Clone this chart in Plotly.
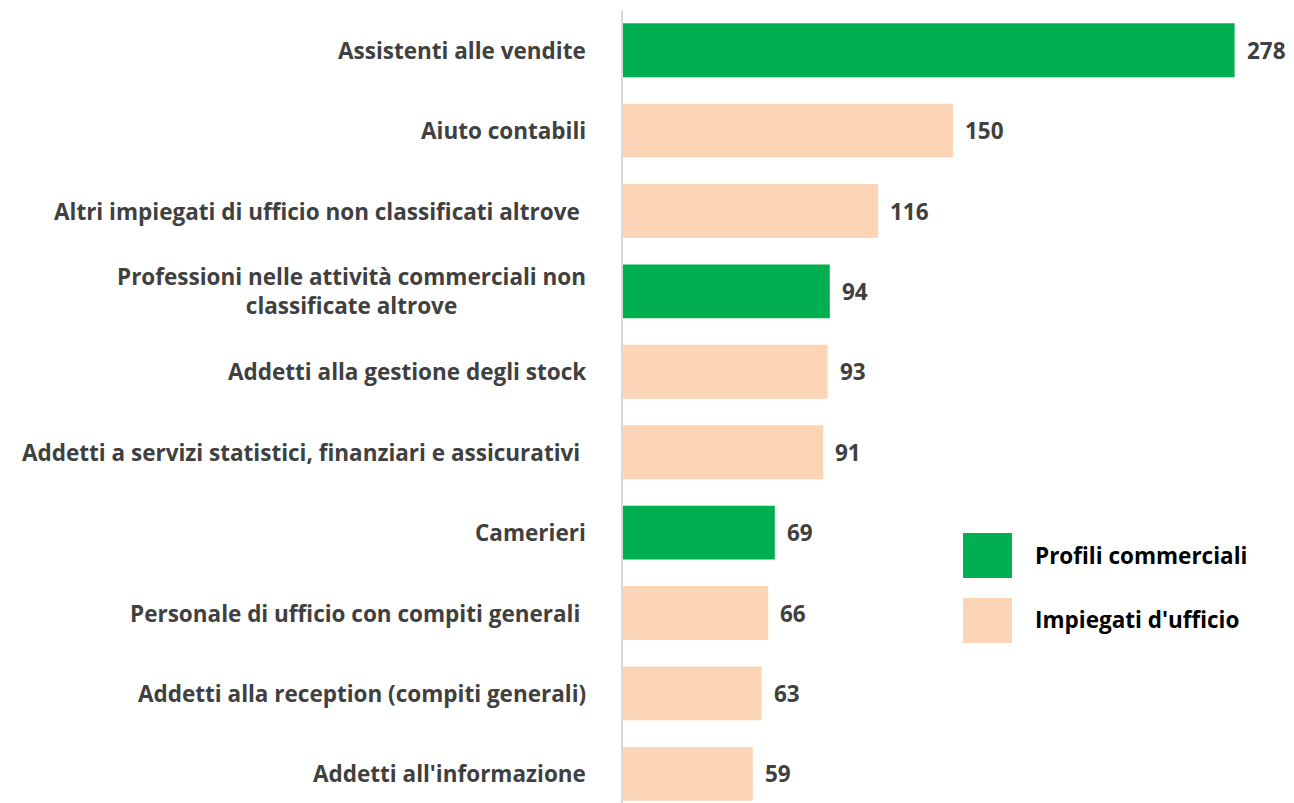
import plotly.graph_objects as go

categories = [
    "Assistenti alle vendite",
    "Aiuto contabili",
    "Altri impiegati di ufficio non classificati altrove ",
    "Professioni nelle attività commerciali non<br>classificate altrove",
    "Addetti alla gestione degli stock",
    "Addetti a servizi statistici, finanziari e assicurativi ",
    "Camerieri",
    "Personale di ufficio con compiti generali ",
    "Addetti alla reception (compiti generali)",
    "Addetti all'informazione",
]
values = [278, 150, 116, 94, 93, 91, 69, 66, 63, 59]
groups = ["Profili commerciali", "Impiegati d'ufficio", "Impiegati d'ufficio",
          "Profili commerciali", "Impiegati d'ufficio", "Impiegati d'ufficio",
          "Profili commerciali", "Impiegati d'ufficio", "Impiegati d'ufficio",
          "Impiegati d'ufficio"]
group_names = ["Profili commerciali", "Impiegati d'ufficio"]
group_colors = {"Profili commerciali": "#00B050", "Impiegati d'ufficio": "#FBD5B5"}

FONT = "Open Sans"
FS = 22.5
ids = list(range(len(categories)))

fig = go.Figure(go.Bar(
    x=values, y=ids, orientation="h",
    marker=dict(color=[group_colors[g] for g in groups], line=dict(width=0)),
    showlegend=False, hoverinfo="skip",
))

annotations = []
for i, (c, v) in enumerate(zip(categories, values)):
    text = c.rstrip() + ("&nbsp;" if c.endswith(" ") else "")
    annotations.append(dict(
        x=0, y=i, xref="paper", yref="y", text=text,
        xanchor="right", yanchor="middle", align="center", xshift=-35,
        showarrow=False, font=dict(family=FONT, size=FS, color="#404040", weight="bold")))
    annotations.append(dict(
        x=v, y=i, xref="x", yref="y", text=str(v), xanchor="left", yanchor="middle",
        xshift=10, showarrow=False,
        font=dict(family=FONT, size=FS, color="#404040", weight="bold")))

shapes = []
leg_y = [(0.3405, 0.2837, 0.3115), (0.2585, 0.2018, 0.2308)]
for name, (y1, y0, ty) in zip(group_names, leg_y):
    shapes.append(dict(type="rect", xref="paper", yref="paper", x0=0.5152, x1=0.5894,
                       y0=y0, y1=y1, fillcolor=group_colors[name], line=dict(width=0)))
    annotations.append(dict(x=0.6212, y=ty, xref="paper", yref="paper", text=name,
                            xanchor="left", yanchor="middle", showarrow=False,
                            font=dict(family=FONT, size=FS, color="#000000", weight="bold")))

fig.update_layout(
    width=1294, height=803,
    margin=dict(l=623, r=11, t=10, b=0),
    paper_bgcolor="white", plot_bgcolor="white",
    bargap=0.33,
    xaxis=dict(range=[0, 300], visible=False),
    yaxis=dict(range=[9.363, -0.5], showticklabels=False, showgrid=False, zeroline=False,
               showline=True, linecolor="#d9d9d9", linewidth=2, ticks=""),
    annotations=annotations, shapes=shapes,
)

fig.write_html("out.html", config={"displayModeBar": False})

with open("out.html", "r", encoding="utf-8") as f:
    html = f.read()
html = html.replace("<head>", "<head><style>html,body{margin:0;padding:0;overflow:hidden;}</style>", 1)
with open("out.html", "w", encoding="utf-8") as f:
    f.write(html)
